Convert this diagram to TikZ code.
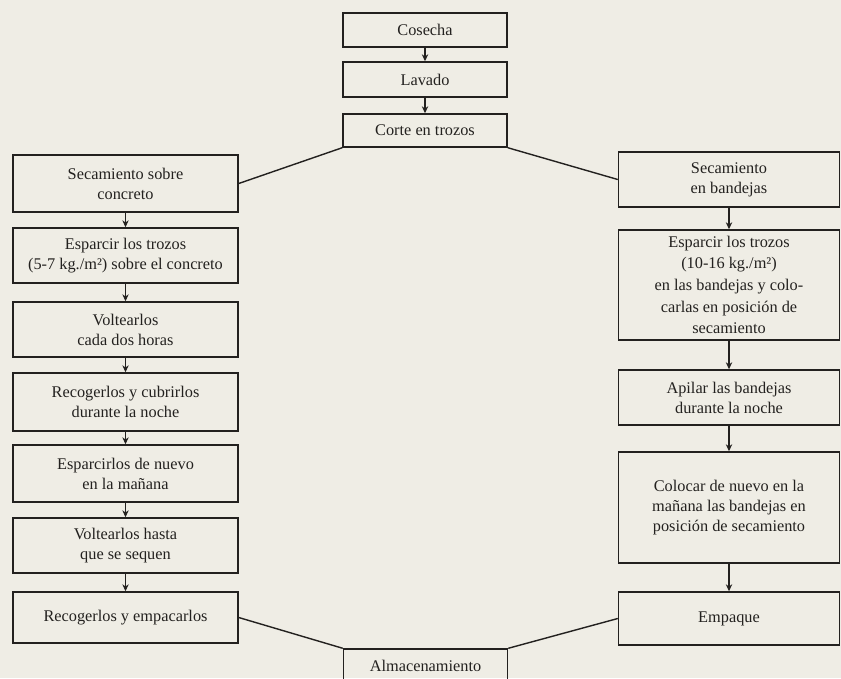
\documentclass[tikz,border=0pt]{standalone}
\usepackage{fontspec}
\setmainfont{Liberation Serif}
\usepackage{tikz}
\usetikzlibrary{calc,positioning,arrows.meta}
\definecolor{papel}{RGB}{239,237,229}
\definecolor{tinta}{RGB}{35,33,31}
\tikzset{caja/.style={draw=tinta,line width=1pt,rectangle,align=center,
inner sep=0pt,text=tinta,font=\fontsize{11.6}{14.2}\selectfont},
izq/.style={caja,minimum width=5.625cm},der/.style={caja,minimum width=5.525cm},
cen/.style={caja,minimum width=4.1cm},
flecha/.style={draw=tinta,line width=1pt,-{Stealth[length=5pt,width=4.5pt]}},
linea/.style={draw=tinta,line width=1pt}}

\begin{document}
\begin{tikzpicture}[x=0.025cm,y=-0.025cm]
		\fill[papel] (0,0) rectangle (841,678);
		\useasboundingbox (0,0) rectangle (841,678);
		% tronco comun
		\node[cen,minimum height=0.85cm] (cos) at (425,30) {Cosecha};
		\node[cen,minimum height=0.875cm] (lav) at (425,79.5) {Lavado};
		\node[cen,minimum height=0.825cm] (cor) at (425,130.5) {Corte en trozos};
		% secamiento sobre concreto
		\node[izq,minimum height=1.425cm] (l1) at (125.5,183.5) {Secamiento sobre\\concreto};
		\node[izq,minimum height=1.375cm] (l2) at (125.5,255.5) {Esparcir los trozos\\(5-7 kg./m²) sobre el concreto};
		\node[izq,minimum height=1.375cm] (l3) at (125.5,329.5) {Voltearlos\\cada dos horas};
		\node[izq,minimum height=1.45cm] (l4) at (125.5,402) {Recogerlos y cubrirlos\\durante la noche};
		\node[izq,minimum height=1.425cm] (l5) at (125.5,473.5) {Esparcirlos de nuevo\\en la mañana};
		\node[izq,minimum height=1.375cm] (l6) at (125.5,545.5) {Voltearlos hasta\\que se sequen};
		\node[izq,minimum height=1.275cm] (l7) at (125.5,617.5) {Recogerlos y empacarlos};
		% secamiento en bandejas
		\node[der,minimum height=1.375cm] (r1) at (729,179.5) {Secamiento\\en bandejas};
		\node[der,minimum height=2.75cm,font=\fontsize{11.6}{15.4}\selectfont] (r2) at (729,285) {Esparcir los trozos\\(10-16 kg./m²)\\en las bandejas y colo-\\carlas en posición de\\secamiento};
		\node[der,minimum height=1.375cm] (r3) at (729,397.5) {Apilar las bandejas\\durante la noche};
		\node[der,minimum height=2.775cm] (r4) at (729,507.5) {Colocar de nuevo en la\\mañana las bandejas en\\posición de secamiento};
		\node[der,minimum height=1.325cm] (r5) at (729,618.5) {Empaque};
		\node[cen,minimum height=0.85cm] (alm) at (425.5,666) {Almacenamiento};
		% conectores
		\draw[flecha] (cos) -- (lav);
		\draw[flecha] (lav) -- (cor);
		\foreach \a/\b in {l1/l2,l2/l3,l3/l4,l4/l5,l5/l6,l6/l7,r1/r2,r2/r3,r3/r4,r4/r5}
			\draw[flecha] (\a) -- (\b);
		\draw[linea] (cor.south west) -- (l1.east);
		\draw[linea] (cor.south east) -- (r1.west);
		\draw[linea] (l7.east) -- (alm.north west);
		\draw[linea] (r5.west) -- (alm.north east);
	\end{tikzpicture}
\end{document}
